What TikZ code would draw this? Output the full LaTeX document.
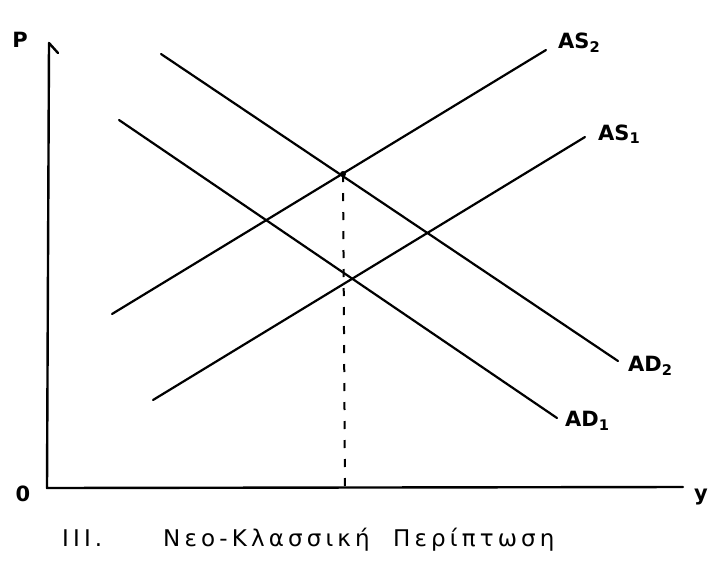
\documentclass[tikz,border=0pt]{standalone}
\usepackage{fontspec}
\setmainfont{DejaVu Sans}
\newfontfamily\capfont[LetterSpace=18]{DejaVu Sans}
\begin{document}
\begin{tikzpicture}[x=1pt,y=-1pt,
  curve/.style={line width=2.2pt,line cap=round},
  axis/.style={line width=2.4pt,line cap=round,line join=round},
  guide/.style={line width=2pt,dash pattern=on 8pt off 11pt},
  lbl/.style={font=\bfseries\fontsize{21}{23}\selectfont,inner sep=0pt},
  captext/.style={font=\capfont\fontsize{23}{25}\selectfont,inner sep=0pt,anchor=base west}]
\useasboundingbox (0,0) rectangle (720,568);
% axes
\coordinate (O) at (47,488);
\coordinate (Ptop) at (49,43);
\coordinate (Pt) at (58,53);
\coordinate (Xend) at (683,487);
\draw[axis] (Xend) -- (O) -- (Ptop) -- (Pt);
% curves
\coordinate (AS2a) at (112,314); \coordinate (AS2b) at (546,50);
\coordinate (AS1a) at (153,400); \coordinate (AS1b) at (585,137);
\coordinate (AD2a) at (161,54);  \coordinate (AD2b) at (618,361);
\coordinate (AD1a) at (119,120); \coordinate (AD1b) at (557,418);
\draw[curve] (AS2a) -- (AS2b);
\draw[curve] (AS1a) -- (AS1b);
\draw[curve] (AD2a) -- (AD2b);
\draw[curve] (AD1a) -- (AD1b);
% equilibrium and guide
\coordinate (E2) at (343,174);
\coordinate (Yf) at (345,488);
\fill (E2) circle (3pt);
\draw[guide] (E2) -- (Yf);
% labels
\node[lbl,anchor=west] (las2) at (558,43) {AS\textsubscript{2}};
\node[lbl,anchor=west] (las1) at (598,134) {AS\textsubscript{1}};
\node[lbl,anchor=west] (lad2) at (628,366) {AD\textsubscript{2}};
\node[lbl,anchor=west] (lad1) at (565,421) {AD\textsubscript{1}};
\node[lbl] (lp) at (20,40) {P};
\node[lbl] (lo) at (23,494) {0};
\node[lbl] (ly) at (701,497) {y};
% caption
\node[captext] (c1) at (62,546) {III.};
\node[captext] (c2) at (163,546) {Νεο-Κλασσική};
\node[captext] (c3) at (393,546) {Περίπτωση};
\end{tikzpicture}
\end{document}
